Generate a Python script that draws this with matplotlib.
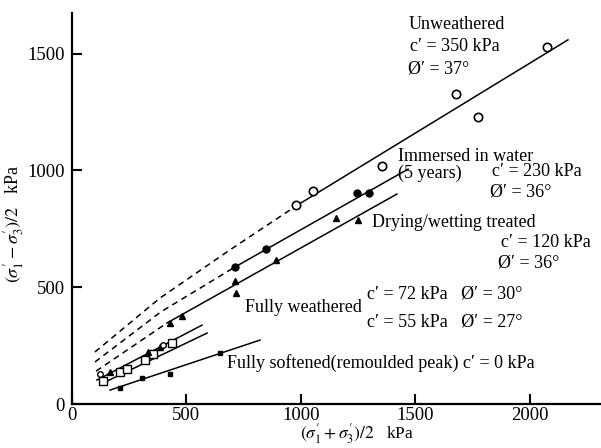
import matplotlib
matplotlib.use("Agg")
import matplotlib.pyplot as plt
import numpy as np

plt.rcParams['font.family'] = ['Liberation Serif', 'DejaVu Serif']
plt.rcParams['mathtext.fontset'] = 'stix'

# Unweathered (open circles)
unw_dash_x = [102, 386, 691, 979]
unw_dash_y = [223, 454, 660, 848]
unw_line_x = [979, 2165]
unw_line_y = [848, 1559]
unw_pts_x = [979, 1053, 1354, 1677, 1773, 2074]
unw_pts_y = [852, 912, 1019, 1328, 1229, 1529]

# Immersed in water (filled circles)
imm_dash_x = [102, 390, 713]
imm_dash_y = [180, 395, 587]
imm_line_x = [713, 1468]
imm_line_y = [587, 1006]
imm_pts_x = [713, 848, 1245, 1297]
imm_pts_y = [587, 664, 904, 904]

# Drying/wetting treated (filled triangles)
dry_dash_x = [107, 416]
dry_dash_y = [141, 347]
dry_line_x = [416, 1419]
dry_line_y = [347, 899]
dry_pts_x = [430, 482, 713, 717, 892, 1154, 1249]
dry_pts_y = [347, 377, 527, 475, 617, 797, 788]

# Fully weathered (two lines, open squares / small triangles / circles)
fw1_x = [111, 569]
fw1_y = [103, 338]
fw2_x = [146, 591]
fw2_y = [94, 304]
fw_sq_x = [137, 212, 244, 321, 355, 438]
fw_sq_y = [99, 137, 150, 190, 215, 262]
fw_tri_x = [168, 334, 386]
fw_tri_y = [137, 223, 244]
fw_circ_x = [123, 399]
fw_circ_y = [128, 253]

# Fully softened (filled squares)
fs_line_x = [168, 822]
fs_line_y = [60, 274]
fs_pts_x = [212, 307, 430, 648]
fs_pts_y = [69, 111, 128, 218]

fig = plt.figure(figsize=(6.01, 4.48), dpi=100)
ax = fig.add_axes([0.119, 0.098, 0.881, 0.873])

lw = 1.1
ax.plot(unw_dash_x, unw_dash_y, 'k--', lw=lw, dashes=(4, 3))
ax.plot(imm_dash_x, imm_dash_y, 'k--', lw=lw, dashes=(4, 3))
ax.plot(dry_dash_x, dry_dash_y, 'k--', lw=lw, dashes=(4, 3))
ax.plot(unw_line_x, unw_line_y, 'k-', lw=lw)
ax.plot(imm_line_x, imm_line_y, 'k-', lw=lw)
ax.plot(dry_line_x, dry_line_y, 'k-', lw=lw)
ax.plot(fw1_x, fw1_y, 'k-', lw=lw)
ax.plot(fw2_x, fw2_y, 'k-', lw=lw)
ax.plot(fs_line_x, fs_line_y, 'k-', lw=lw)

ax.plot(unw_pts_x, unw_pts_y, 'o', mfc='white', mec='k', ms=6, mew=1.2)
ax.plot(imm_pts_x, imm_pts_y, 'o', color='k', ms=5)
ax.plot(dry_pts_x, dry_pts_y, '^', color='k', ms=4.5)
ax.plot(fw_sq_x, fw_sq_y, 's', mfc='white', mec='k', ms=6, mew=1)
ax.plot(fw_tri_x, fw_tri_y, '^', color='k', ms=4)
ax.plot(fw_circ_x, fw_circ_y, 'o', mfc='white', mec='k', ms=4, mew=1)
ax.plot(fs_pts_x, fs_pts_y, 's', color='k', ms=3.5)

fs = 13
kw = dict(fontsize=fs, va='center', ha='left')
ax.text(1472, 1623, 'Unweathered', **kw)
ax.text(1476, 1529, 'c′ = 350 kPa', **kw)
ax.text(1467, 1435, 'Ø′ = 37°', **kw)
ax.text(1424, 1060, 'Immersed in water', **kw)
ax.text(1424, 986, '(5 years)', **kw)
ax.text(1834, 994, 'c′ = 230 kPa', **kw)
ax.text(1825, 908, 'Ø′ = 36°', **kw)
ax.text(1310, 779, 'Drying/wetting treated', **kw)
ax.text(1873, 690, 'c′ = 120 kPa', **kw)
ax.text(1860, 604, 'Ø′ = 36°', **kw)
ax.text(757, 415, 'Fully weathered', **kw)
ax.text(1289, 471, 'c′ = 72 kPa   Ø′ = 30°', **kw)
ax.text(1289, 351, 'c′ = 55 kPa   Ø′ = 27°', **kw)
ax.text(678, 176, 'Fully softened(remoulded peak) c′ = 0 kPa', **kw)

ax.set_xlim(0, 2309)
ax.set_ylim(0, 1674)
ax.set_xticks([0, 500, 1000, 1500, 2000])
ax.set_yticks([0, 500, 1000, 1500])
ax.tick_params(direction='in', length=7, width=1.5, labelsize=13.5)
ax.tick_params(axis='y', pad=5)
ax.tick_params(axis='x', pad=2)
for s in ['top', 'right']:
    ax.spines[s].set_visible(False)
for s in ['left', 'bottom']:
    ax.spines[s].set_linewidth(1.6)

ax.set_xlabel(r"$(\sigma_1' + \sigma_3')/2$   kPa", fontsize=12.5, va='bottom')
ax.xaxis.set_label_coords(0.539, -0.108)
ax.set_ylabel(r"$(\sigma_1' - \sigma_3')/2$   kPa", fontsize=13, va='center')
ax.yaxis.set_label_coords(-0.109, 0.46)

fig.savefig('out.png', dpi=100)
